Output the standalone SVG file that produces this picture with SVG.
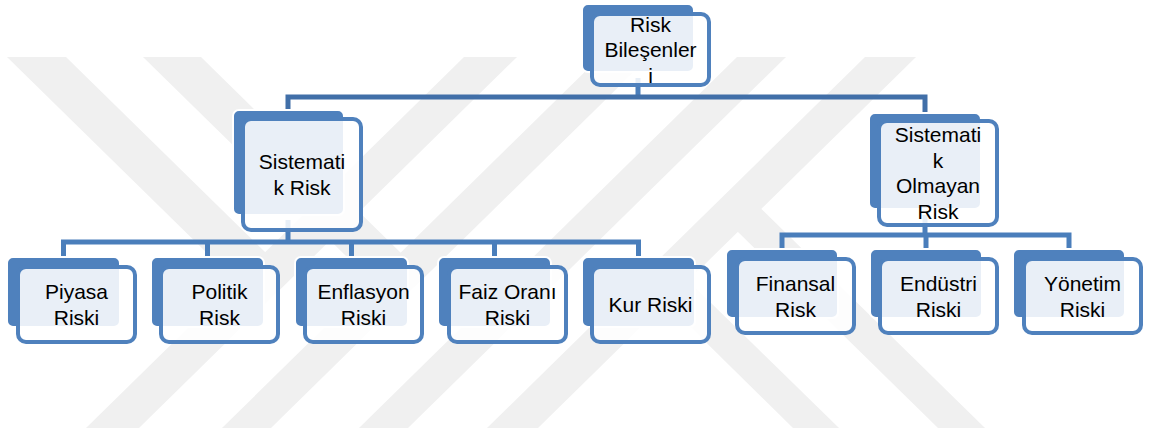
<svg xmlns="http://www.w3.org/2000/svg" width="1149" height="433" viewBox="0 0 1149 433">
<style>
.wm{fill:#f0f0f0}
.back{fill:#4f81bd;stroke:#ffffff;stroke-width:2}
.front{fill:#ffffff;fill-opacity:0.875;stroke:#4f81bd;stroke-width:4}
.lbl{font-family:"Liberation Sans",Arial,sans-serif;font-size:21px;fill:#000000;text-anchor:middle}
.conn{fill:none;stroke:#4a7ebb;stroke-width:5;stroke-linejoin:miter}
.conn-top{fill:none;stroke:#416fa8;stroke-width:5;stroke-linejoin:miter}
</style>
<rect width="1149" height="433" fill="#ffffff"/>
<g id="watermark">
<polygon class="wm" points="86,428 139,428 517,57 464,57"/>
<polygon class="wm" points="222,428 271,428 649,57 600,57"/>
<polygon class="wm" points="359,428 408,428 786,57 737,57"/>
<polygon class="wm" points="487,428 538,428 916,57 865,57"/>
<polygon class="wm" points="7,57 66,57 265,252 262,307"/>
<polygon class="wm" points="143,57 201,57 401,253 396,305"/>
<polygon class="wm" points="793,428 839,428 663,256 666,303"/>
<polygon class="wm" points="938,428 985,428 736,184 738,232"/>
</g>
<g id="connectors">
<path class="conn" d="M638 78 V97"/>
<path class="conn-top" d="M288 110 V97 H925 V113"/>
<path class="conn" d="M288 220 V242"/>
<path class="conn" d="M63.5 257 V242 H638.5 V257"/>
<path class="conn" d="M207.5 242 V257 M351.5 242 V257 M494.5 242 V257"/>
<path class="conn" d="M925 215 V235"/>
<path class="conn" d="M782 249 V235 H1069 V249"/>
<path class="conn" d="M926 235 V249"/>
</g>
<g id="node-root">
<rect class="back" x="582" y="4" width="112" height="68" rx="6"/>
<rect class="front" x="592" y="14" width="117" height="71" rx="8"/>
<text class="lbl" x="650.5" y="31.5">Risk</text>
<text class="lbl" x="650.5" y="57">Bileşenler</text>
<text class="lbl" x="650.5" y="82.5">i</text>
</g>
<g id="node-sistematik">
<rect class="back" x="233" y="110" width="111" height="105" rx="6"/>
<rect class="front" x="243" y="119" width="118" height="111" rx="8"/>
<text class="lbl" x="302" y="169.25">Sistemati</text>
<text class="lbl" x="302" y="194.75">k Risk</text>
</g>
<g id="node-sistematik-olmayan">
<rect class="back" x="869" y="113" width="112" height="96" rx="6"/>
<rect class="front" x="879" y="121" width="118" height="104" rx="8"/>
<text class="lbl" x="938" y="142">Sistemati</text>
<text class="lbl" x="938" y="167.5">k</text>
<text class="lbl" x="938" y="193">Olmayan</text>
<text class="lbl" x="938" y="218.5">Risk</text>
</g>
<g id="node-piyasa">
<rect class="back" x="7" y="257" width="113" height="70" rx="6"/>
<rect class="front" x="18" y="267" width="117" height="75" rx="8"/>
<text class="lbl" x="76.5" y="299.25">Piyasa</text>
<text class="lbl" x="76.5" y="324.75">Riski</text>
</g>
<g id="node-politik">
<rect class="back" x="151" y="257" width="113" height="70" rx="6"/>
<rect class="front" x="161" y="267" width="117" height="75" rx="8"/>
<text class="lbl" x="219.5" y="299.25">Politik</text>
<text class="lbl" x="219.5" y="324.75">Risk</text>
</g>
<g id="node-enflasyon">
<rect class="back" x="295" y="257" width="113" height="70" rx="6"/>
<rect class="front" x="305" y="267" width="117" height="75" rx="8"/>
<text class="lbl" x="363.5" y="299.25">Enflasyon</text>
<text class="lbl" x="363.5" y="324.75">Riski</text>
</g>
<g id="node-faiz">
<rect class="back" x="438" y="257" width="113" height="70" rx="6"/>
<rect class="front" x="449" y="267" width="117" height="75" rx="8"/>
<text class="lbl" x="507.5" y="299.25">Faiz Oranı</text>
<text class="lbl" x="507.5" y="324.75">Riski</text>
</g>
<g id="node-kur">
<rect class="back" x="582" y="257" width="113" height="70" rx="6"/>
<rect class="front" x="592" y="267" width="117" height="75" rx="8"/>
<text class="lbl" x="650.5" y="312">Kur Riski</text>
</g>
<g id="node-finansal">
<rect class="back" x="726" y="249" width="112" height="69" rx="6"/>
<rect class="front" x="737" y="259" width="117" height="74" rx="8"/>
<text class="lbl" x="795.5" y="291.25">Finansal</text>
<text class="lbl" x="795.5" y="316.75">Risk</text>
</g>
<g id="node-endustri">
<rect class="back" x="870" y="249" width="112" height="69" rx="6"/>
<rect class="front" x="880" y="259" width="117" height="74" rx="8"/>
<text class="lbl" x="938.5" y="291.25">Endüstri</text>
<text class="lbl" x="938.5" y="316.75">Riski</text>
</g>
<g id="node-yonetim">
<rect class="back" x="1013" y="249" width="112" height="69" rx="6"/>
<rect class="front" x="1024" y="259" width="117" height="74" rx="8"/>
<text class="lbl" x="1082.5" y="291.25">Yönetim</text>
<text class="lbl" x="1082.5" y="316.75">Riski</text>
</g>
</svg>
